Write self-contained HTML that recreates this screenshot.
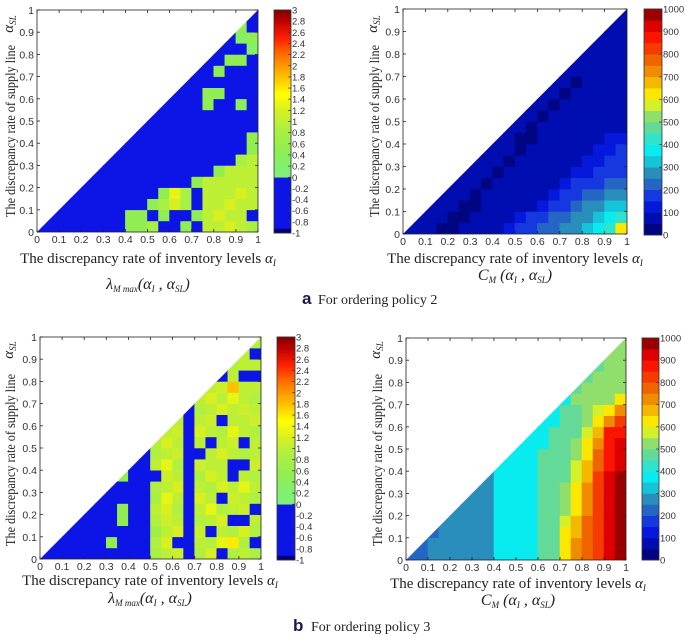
<!DOCTYPE html>
<html><head><meta charset="utf-8"><style>
html,body{margin:0;padding:0;background:#fff;}
svg{display:block;}
text{font-family:"Liberation Sans",sans-serif;}
.serif{font-family:"Liberation Serif",serif;}
</style></head><body>
<svg id="fig" width="685" height="637" viewBox="0 0 685 637" xmlns="http://www.w3.org/2000/svg">
<defs></defs>
</svg>
<script>
// ---------- data (rows bottom -> top, 20 columns of alpha_I) ----------
const lamTicks=[-1,-0.8,-0.6,-0.4,-0.2,0,0.2,0.4,0.6,0.8,1,1.2,1.4,1.6,1.8,2,2.2,2.4,2.6,2.8,3];
const costTicks=[0,100,200,300,400,500,600,700,800,900,1000];
const axisTicks=[0,0.1,0.2,0.3,0.4,0.5,0.6,0.7,0.8,0.9,1];
const lamPolicy2=[
[-.5,-.5,-.5,-.5,-.5,-.5,-.5,-.5,.5,.5,.8,-.5,-.5,.5,-.5,1,1,1.2,1,.8],
[-.5,-.5,-.5,-.5,-.5,-.5,-.5,-.5,.5,.5,-.5,.5,-.5,-.5,.5,1,1.2,1,1,-.5],
[-.5,-.5,-.5,-.5,-.5,-.5,-.5,-.5,-.5,-.5,.5,.8,1.2,.8,-.5,1,1,1.2,1,1],
[-.5,-.5,-.5,-.5,-.5,-.5,-.5,-.5,-.5,-.5,-.5,.5,1.3,.8,-.5,1,1,1,1.2,1],
[-.5,-.5,-.5,-.5,-.5,-.5,-.5,-.5,-.5,-.5,-.5,-.5,-.5,-.5,.5,1,1,1,1,1],
[-.5,-.5,-.5,-.5,-.5,-.5,-.5,-.5,-.5,-.5,-.5,-.5,-.5,-.5,-.5,-.5,.5,1,1,1],
[-.5,-.5,-.5,-.5,-.5,-.5,-.5,-.5,-.5,-.5,-.5,-.5,-.5,-.5,-.5,-.5,-.5,-.5,.8,1],
[-.5,-.5,-.5,-.5,-.5,-.5,-.5,-.5,-.5,-.5,-.5,-.5,-.5,-.5,-.5,-.5,-.5,-.5,-.5,.5],
[-.5,-.5,-.5,-.5,-.5,-.5,-.5,-.5,-.5,-.5,-.5,-.5,-.5,-.5,-.5,-.5,-.5,-.5,-.5,.5],
[-.5,-.5,-.5,-.5,-.5,-.5,-.5,-.5,-.5,-.5,-.5,-.5,-.5,-.5,-.5,-.5,-.5,-.5,-.5,-.5],
[-.5,-.5,-.5,-.5,-.5,-.5,-.5,-.5,-.5,-.5,-.5,-.5,-.5,-.5,-.5,-.5,-.5,-.5,-.5,-.5],
[-.5,-.5,-.5,-.5,-.5,-.5,-.5,-.5,-.5,-.5,-.5,-.5,-.5,-.5,-.5,.5,-.5,-.5,.4,-.5],
[-.5,-.5,-.5,-.5,-.5,-.5,-.5,-.5,-.5,-.5,-.5,-.5,-.5,-.5,-.5,.5,.5,-.5,-.5,-.5],
[-.5,-.5,-.5,-.5,-.5,-.5,-.5,-.5,-.5,-.5,-.5,-.5,-.5,-.5,-.5,-.5,-.5,-.5,-.5,-.5],
[-.5,-.5,-.5,-.5,-.5,-.5,-.5,-.5,-.5,-.5,-.5,-.5,-.5,-.5,-.5,-.5,.5,-.5,-.5,-.5],
[-.5,-.5,-.5,-.5,-.5,-.5,-.5,-.5,-.5,-.5,-.5,-.5,-.5,-.5,-.5,-.5,-.5,.5,.5,-.5],
[-.5,-.5,-.5,-.5,-.5,-.5,-.5,-.5,-.5,-.5,-.5,-.5,-.5,-.5,-.5,-.5,-.5,-.5,-.5,.3],
[-.5,-.5,-.5,-.5,-.5,-.5,-.5,-.5,-.5,-.5,-.5,-.5,-.5,-.5,-.5,-.5,-.5,-.5,.3,.5],
[-.5,-.5,-.5,-.5,-.5,-.5,-.5,-.5,-.5,-.5,-.5,-.5,-.5,-.5,-.5,-.5,-.5,.3,.5,-.5],
[-.5,-.5,-.5,-.5,-.5,-.5,-.5,-.5,-.5,-.5,-.5,-.5,-.5,-.5,-.5,-.5,-.5,-.5,-.5,-.5]];
const lamPolicy3=[
[-.5,-.5,-.5,-.5,-.5,-.5,-.5,-.5,-.5,-.5,.8,1,1.1,-.5,.9,1.2,-.5,.9,1,.8],
[-.5,-.5,-.5,-.5,-.5,-.5,.5,-.5,-.5,-.5,.9,1.2,-.5,-.5,1,.9,1.3,1.6,.9,-.5],
[-.5,-.5,-.5,-.5,-.5,-.5,-.5,-.5,-.5,-.5,.7,1,1.2,-.5,1.1,-.5,1,.9,1.2,.9],
[-.5,-.5,-.5,-.5,-.5,-.5,-.5,.5,-.5,-.5,.9,1.1,1,-.5,.9,1,1.2,-.5,-.5,1],
[-.5,-.5,-.5,-.5,-.5,-.5,-.5,.5,-.5,-.5,1,1.2,.9,-.5,1,1.3,.9,1,1.1,-.5],
[-.5,-.5,-.5,-.5,-.5,-.5,-.5,-.5,-.5,-.5,.8,1.3,1,-.5,1.2,1,-.5,1.1,1,.9],
[-.5,-.5,-.5,-.5,-.5,-.5,-.5,-.5,-.5,-.5,.9,1,1.2,-.5,1,.9,1.2,1,1.3,1],
[-.5,-.5,-.5,-.5,-.5,-.5,-.5,.5,-.5,-.5,-.5,1.1,1,-.5,.9,1.2,1,-.5,1,.9],
[-.5,-.5,-.5,-.5,-.5,-.5,-.5,-.5,-.5,-.5,1,1.3,.9,-.5,1.1,1,1,-.5,-.5,1.1],
[-.5,-.5,-.5,-.5,-.5,-.5,-.5,-.5,-.5,-.5,.9,1,1.1,-.5,-.5,1,1.2,1,.9,1],
[-.5,-.5,-.5,-.5,-.5,-.5,-.5,-.5,-.5,-.5,.9,1.2,1,-.5,1,-.5,1,1.1,-.5,1],
[-.5,-.5,-.5,-.5,-.5,-.5,-.5,-.5,-.5,-.5,-.5,1,1.1,-.5,1.2,1,.9,1.3,1,.9],
[-.5,-.5,-.5,-.5,-.5,-.5,-.5,-.5,-.5,-.5,-.5,.9,1,-.5,1,1.1,-.5,1,1,1.1],
[-.5,-.5,-.5,-.5,-.5,-.5,-.5,-.5,-.5,-.5,-.5,-.5,1.1,-.5,.9,1,1.2,1,1.1,1],
[-.5,-.5,-.5,-.5,-.5,-.5,-.5,-.5,-.5,-.5,-.5,-.5,-.5,-.5,1,1.2,1,1.3,1,.9],
[-.5,-.5,-.5,-.5,-.5,-.5,-.5,-.5,-.5,-.5,-.5,-.5,-.5,-.5,-.5,1,1.1,1.8,1,1],
[-.5,-.5,-.5,-.5,-.5,-.5,-.5,-.5,-.5,-.5,-.5,-.5,-.5,-.5,-.5,-.5,-.5,1,-.5,-.5],
[-.5,-.5,-.5,-.5,-.5,-.5,-.5,-.5,-.5,-.5,-.5,-.5,-.5,-.5,-.5,-.5,-.5,.9,1,1],
[-.5,-.5,-.5,-.5,-.5,-.5,-.5,-.5,-.5,-.5,-.5,-.5,-.5,-.5,-.5,-.5,-.5,-.5,1,-.5],
[-.5,-.5,-.5,-.5,-.5,-.5,-.5,-.5,-.5,-.5,-.5,-.5,-.5,-.5,-.5,-.5,-.5,-.5,-.5,.9]];
const costPolicy2=[
[80,80,80,20,20,80,80,80,80,130,150,160,200,230,260,280,330,360,400,600],
[80,80,80,80,20,20,80,80,80,80,130,150,170,200,240,260,290,330,370,420],
[80,80,80,80,80,20,20,80,80,80,80,80,140,160,190,220,250,280,310,340],
[80,80,80,80,80,80,20,80,80,80,80,80,80,140,160,180,210,240,260,280],
[80,80,80,80,80,80,80,20,80,80,80,80,80,80,140,150,170,190,210,230],
[80,80,80,80,80,80,80,80,20,80,80,80,80,80,80,130,140,160,170,190],
[80,80,80,80,80,80,80,80,80,20,80,80,80,80,80,80,130,140,150,160],
[80,80,80,80,80,80,80,80,80,80,20,80,80,80,80,80,80,130,140,150],
[80,80,80,80,80,80,80,80,80,80,20,20,80,80,80,80,80,80,130,140],
[80,80,80,80,80,80,80,80,80,80,80,20,80,80,80,80,80,80,80,80],
[80,80,80,80,80,80,80,80,80,80,80,80,20,80,80,80,80,80,80,80],
[80,80,80,80,80,80,80,80,80,80,80,80,80,20,80,80,80,80,80,80],
[80,80,80,80,80,80,80,80,80,80,80,80,80,80,20,80,80,80,80,80],
[80,80,80,80,80,80,80,80,80,80,80,80,80,80,80,20,80,80,80,80],
[80,80,80,80,80,80,80,80,80,80,80,80,80,80,80,80,80,80,80,80],
[80,80,80,80,80,80,80,80,80,80,80,80,80,80,80,80,80,80,80,80],
[80,80,80,80,80,80,80,80,80,80,80,80,80,80,80,80,80,80,80,80],
[80,80,80,80,80,80,80,80,80,80,80,80,80,80,80,80,80,80,80,80],
[80,80,80,80,80,80,80,80,80,80,80,80,80,80,80,80,80,80,80,80],
[80,80,80,80,80,80,80,80,80,80,80,80,80,80,80,80,80,80,80,80]];
const costPolicy3=[
[200,220,270,270,270,270,270,280,380,380,380,380,470,470,620,700,760,820,900,960],
[200,220,270,270,270,270,270,280,380,380,380,380,450,470,610,700,760,820,900,960],
[200,220,240,270,270,270,270,280,380,380,380,380,450,470,600,690,760,830,900,970],
[200,220,240,270,270,270,270,290,380,380,380,380,470,470,560,650,750,820,900,970],
[200,220,240,240,270,270,270,290,380,380,380,380,470,470,540,640,740,820,900,970],
[200,220,240,240,240,270,270,290,380,380,380,380,470,470,520,620,720,820,900,960],
[200,220,240,240,240,240,270,290,380,380,380,380,470,470,500,600,700,800,900,960],
[200,220,240,240,240,240,240,290,380,380,380,380,470,470,490,580,680,800,900,950],
[200,220,240,240,240,240,240,240,380,380,380,380,470,470,480,560,660,780,880,920],
[200,220,240,240,240,240,240,240,380,380,380,380,470,470,480,520,620,760,880,900],
[200,220,240,240,240,240,240,240,380,380,380,380,380,480,480,500,600,720,880,900],
[200,220,240,240,240,240,240,240,380,380,380,380,380,470,490,490,580,680,850,880],
[200,220,240,240,240,240,240,240,380,380,380,380,380,380,470,480,520,620,700,820],
[200,220,240,240,240,240,240,240,380,380,380,380,380,380,470,480,500,560,620,700],
[200,220,240,240,240,240,240,240,380,380,380,380,380,380,380,500,500,500,540,600],
[200,220,240,240,240,240,240,240,380,380,380,380,380,380,380,480,500,500,500,520],
[200,220,240,240,240,240,240,240,380,380,380,380,380,380,380,480,480,500,500,500],
[200,220,240,240,240,240,240,240,380,380,380,380,380,380,380,480,480,490,500,500],
[200,220,240,240,240,240,240,240,380,380,380,380,380,380,380,480,480,480,500,500],
[200,220,240,240,240,240,240,240,380,380,380,380,380,380,380,480,480,480,500,500]];

// ---------- colour maps ----------
function hex(c){return [parseInt(c.slice(1,3),16),parseInt(c.slice(3,5),16),parseInt(c.slice(5,7),16)];}
function interp(stops,v){
  if(v<=stops[0][0])return stops[0][1];
  for(let i=1;i<stops.length;i++){
    if(v<=stops[i][0]){const a=stops[i-1],b=stops[i];const t=(v-a[0])/(b[0]-a[0]);
      const A=hex(a[1]),B=hex(b[1]);return 'rgb('+A.map((x,k)=>Math.round(x+(B[k]-x)*t)).join(',')+')';}
  }
  return stops[stops.length-1][1];
}
const lamStops=[[0,'#80f080'],[0.2,'#80f070'],[0.5,'#90ee50'],[0.9,'#b0f040'],[1.2,'#d8f020'],[1.5,'#ffff00'],[1.8,'#ffc000'],[2.2,'#ff7000'],[2.5,'#ff2000'],[2.8,'#c00000'],[3,'#800000']];
function lamColor(v){ if(v<0) return v<-0.93?'#000070':'#0c14e6'; return interp(lamStops,v); }
const costStops=[[0,'#00006a'],[50,'#000a9a'],[100,'#0010c8'],[150,'#0a20f0'],[200,'#2050d0'],[250,'#2a7cb8'],[300,'#2aa0c0'],[350,'#00e8f0'],[400,'#10f0f0'],[450,'#50d8a8'],[500,'#78dc88'],[550,'#a8e050'],[600,'#ffff00'],[700,'#f0a000'],[800,'#f05000'],[900,'#ff0000'],[1000,'#7a0000']];
function costColor(v){ const q=Math.min(975,Math.floor(v/50)*50+25); return interp(costStops,q); }

// ---------- drawing ----------
const NS='http://www.w3.org/2000/svg';
const svg=document.getElementById('fig');
function el(tag,attrs,parent){const e=document.createElementNS(NS,tag);for(const k in attrs)e.setAttribute(k,attrs[k]);(parent||svg).appendChild(e);return e;}

function panel(id,box,grid,colorFn,cb,cbTicks,cbMin,cbMax,cbColorFn,cbFmt){
  const g=el('g',{});
  
  
  const sx=v=>box.x0+(box.x1-box.x0)*v, sy=v=>box.y1-(box.y1-box.y0)*v;
  const clip=el('clipPath',{id:id+'-clip'},svg.querySelector('defs'));
  el('polygon',{points:`${sx(0)},${sy(0)} ${sx(1)},${sy(0)} ${sx(1)},${sy(1)}`},clip);
  const hm=el('g',{'clip-path':`url(#${id}-clip)`},g);
  
  
  const nr=grid.length;
  for(let r=0;r<nr;r++){const nc=grid[r].length;for(let c=0;c<nc;c++){
    const x0=sx(c/nc),x1=sx((c+1)/nc),y0=sy((r+1)/nr),y1=sy(r/nr);
    const rc=el('rect',{x:x0-0.3,y:y0-0.3,width:x1-x0+0.6,height:y1-y0+0.6,fill:colorFn(grid[r][c])},hm);
    
    
  }}
  const frame=el('rect',{x:box.x0,y:box.y0,width:box.x1-box.x0,height:box.y1-box.y0,fill:'none',stroke:'#222','stroke-width':0.8},g);
  
  
  axisTicks.forEach(t=>{
    const x=sx(t),y=sy(t);
    el('line',{x1:x,y1:box.y1,x2:x,y2:box.y1-3,stroke:'#222','stroke-width':0.8},g);
    el('line',{x1:x,y1:box.y0,x2:x,y2:box.y0+3,stroke:'#222','stroke-width':0.8},g);
    el('line',{x1:box.x0,y1:y,x2:box.x0+3,y2:y,stroke:'#222','stroke-width':0.8},g);
    el('line',{x1:box.x1,y1:y,x2:box.x1-3,y2:y,stroke:'#222','stroke-width':0.8},g);
    const xl=el('text',{x:x,y:box.y1+11,'font-size':10.5,'text-anchor':'middle',fill:'#333'},g);
    xl.textContent=String(t);
    
    
    const yl=el('text',{x:box.x0-3,y:y+4,'font-size':10.5,'text-anchor':'end',fill:'#333'},g);
    yl.textContent=String(t);
    
    
  });
  const cg=el('g',{},g);
  
  
  const N=100, cy=v=>cb.y1-(cb.y1-cb.y0)*(v-cbMin)/(cbMax-cbMin);
  for(let i=0;i<N;i++){const v0=cbMin+(cbMax-cbMin)*i/N,v1=cbMin+(cbMax-cbMin)*(i+1)/N;
    el('rect',{x:cb.x0,y:cy(v1)-0.3,width:cb.x1-cb.x0,height:cy(v0)-cy(v1)+0.6,fill:cbColorFn((v0+v1)/2)},cg);}
  el('rect',{x:cb.x0,y:cb.y0,width:cb.x1-cb.x0,height:cb.y1-cb.y0,fill:'none',stroke:'#333','stroke-width':0.8},cg);
  cbTicks.forEach(t=>{const y=cy(t);
    el('line',{x1:cb.x1-3,y1:y,x2:cb.x1,y2:y,stroke:'#333','stroke-width':0.7},cg);
    const tl=el('text',{x:cb.x1+1,y:y+3.5,'font-size':cbFmt.size,fill:'#333'},cg);
    tl.textContent=String(t);
    
    
  });
  return g;
}
function txt(s,attrs,name){const t=el('text',attrs);t.textContent=s;return t;}
function yTitle(x,yc){
  txt('The discrepancy rate of supply line',{x:x,y:yc,class:'serif','font-size':14,'text-anchor':'middle',textLength:172,lengthAdjust:'spacingAndGlyphs',transform:`rotate(-90 ${x} ${yc})`,fill:'#222'},'y-axis-title');
}
function alphaSL(x,y){
  const t=el('text',{x:x,y:y,class:'serif','font-size':15,'font-style':'italic',transform:`rotate(-90 ${x} ${y})`,'text-anchor':'middle',fill:'#222'});
  
  
  t.innerHTML='α<tspan font-size="9" dy="3">SL</tspan>';
}
function xTitle(cx,y){
  const t=el('text',{x:cx,y:y,class:'serif','font-size':15,'text-anchor':'middle',fill:'#222'});
  
  
  t.innerHTML='The discrepancy rate of inventory levels <tspan font-style="italic">α</tspan><tspan font-size="9" dy="3" font-style="italic">I</tspan>';
}
function formula(cx,y,kind){
  const t=el('text',{x:cx,y:y,class:'serif','font-size':16,'text-anchor':'middle',fill:'#222','font-style':'italic'});
  
  
  t.innerHTML=(kind==='lam'?'λ<tspan font-size="9" dy="3">M max</tspan><tspan dy="-3">(α</tspan>':'C<tspan font-size="9" dy="3">M</tspan><tspan dy="-3"> (α</tspan>')+
    '<tspan font-size="9" dy="3">I</tspan><tspan dy="-3"> , α</tspan><tspan font-size="9" dy="3">SL</tspan><tspan dy="-3">)</tspan>';
}

panel('lam-policy2',{x0:37,x1:258,y0:10,y1:232},lamPolicy2,lamColor,{x0:274,x1:291,y0:10,y1:233},lamTicks,-1,3,lamColor,{size:9.5});
panel('cost-policy2',{x0:403,x1:627,y0:9,y1:234},costPolicy2,costColor,{x0:644,x1:662,y0:9,y1:235},costTicks,0,1000,costColor,{size:9.5});
panel('lam-policy3',{x0:40,x1:261,y0:337,y1:559},lamPolicy3,lamColor,{x0:277,x1:295,y0:337,y1:560},lamTicks,-1,3,lamColor,{size:9.5});
panel('cost-policy3',{x0:406,x1:626,y0:338,y1:560},costPolicy3,costColor,{x0:642,x1:659,y0:338,y1:560},costTicks,0,1000,costColor,{size:9.5});

yTitle(15,131); alphaSL(13,24);
yTitle(379,131); alphaSL(377,24);
yTitle(15,460); alphaSL(13,350);
yTitle(382,460); alphaSL(380,350);
xTitle(148,263); formula(148,289,'lam');
xTitle(515,263); formula(515,280,'cost');
xTitle(150,585); formula(150,603,'lam');
xTitle(518,588); formula(518,605,'cost');

txt('a',{x:302,y:304,'font-size':17,'font-weight':'bold',fill:'#1a1a4a'},'caption-label-a');
txt('For ordering policy 2',{x:318,y:304,class:'serif','font-size':14,fill:'#222'},'caption-policy-2');
txt('b',{x:293,y:631,'font-size':17,'font-weight':'bold',fill:'#1a1a4a'},'caption-label-b');
txt('For ordering policy 3',{x:311,y:631,class:'serif','font-size':14,fill:'#222'},'caption-policy-3');
</script>
</body></html>
